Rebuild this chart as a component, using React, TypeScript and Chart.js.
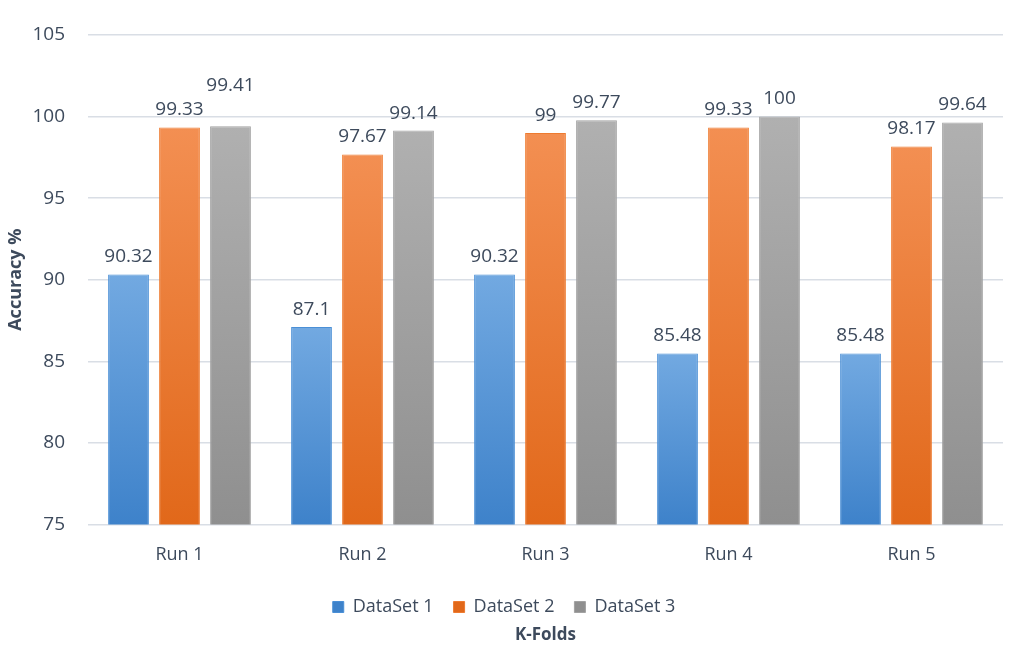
import { useEffect, useRef } from "react";
import Chart from "chart.js/auto";

const runs = ["Run 1", "Run 2", "Run 3", "Run 4", "Run 5"];
const dataSet1 = [90.32, 87.1, 90.32, 85.48, 85.48];
const dataSet2 = [99.33, 97.67, 99, 99.33, 98.17];
const dataSet3 = [99.41, 99.14, 99.77, 100, 99.64];
const seriesNames = ["DataSet 1", "DataSet 2", "DataSet 3"];
const xTitle = "K-Folds";
const yTitle = "Accuracy %";

const FONT = "'Open Sans', 'Noto Sans', sans-serif";
const TEXT = "#3d4a5c";

// top / bottom / border colour of each bar
const shades = [
  ["#72a9e1", "#3e82ca", "#4a8fd6"],
  ["#f38f52", "#e1681a", "#ee7b30"],
  ["#b0b0b0", "#8f8f8f", "#a2a2a2"],
];

function barGradient(idx: number) {
  return (c: any) => {
    const chart = c.chart;
    const y = chart.scales?.y;
    if (!chart.chartArea || !y || c.raw == null) return shades[idx][2];
    const top = y.getPixelForValue(c.raw);
    const bottom = y.getPixelForValue(y.min);
    const g = chart.ctx.createLinearGradient(0, top, 0, bottom);
    g.addColorStop(0, shades[idx][0]);
    g.addColorStop(1, shades[idx][1]);
    return g;
  };
}

// value above each bar; a label that would run into its neighbour is lifted above it
const valueLabels = {
  id: "valueLabels",
  afterDatasetsDraw(chart: any) {
    const ctx = chart.ctx;
    ctx.save();
    ctx.font = `19px ${FONT}`;
    ctx.fillStyle = TEXT;
    ctx.textAlign = "center";
    ctx.textBaseline = "bottom";
    const h = 22;
    const n = chart.data.labels.length;
    for (let j = 0; j < n; j++) {
      const placed: { l: number; r: number; b: number }[] = [];
      chart.data.datasets.forEach((ds: any, i: number) => {
        const bar = chart.getDatasetMeta(i).data[j];
        const text = String(ds.data[j]);
        const w = ctx.measureText(text).width;
        const l = bar.x - w / 2 - 3;
        const r = bar.x + w / 2 + 3;
        let b = bar.y - 8;
        placed.forEach((p) => {
          if (l < p.r && r > p.l && b > p.b - h && b - h < p.b) b = p.b - h - 2;
        });
        placed.push({ l, r, b });
        ctx.fillText(text, bar.x, b);
      });
    }
    ctx.restore();
  },
};

// x-axis title sits under the legend, centred on the plot area
const bottomTitle = {
  id: "bottomTitle",
  afterDraw(chart: any) {
    const { ctx, chartArea } = chart;
    ctx.save();
    ctx.font = `bold 17px ${FONT}`;
    ctx.fillStyle = TEXT;
    ctx.textAlign = "center";
    ctx.textBaseline = "middle";
    ctx.fillText(xTitle, (chartArea.left + chartArea.right) / 2, chart.height - 26);
    ctx.restore();
  },
};

export default function App() {
  const canvasRef = useRef<HTMLCanvasElement>(null);
  const chartRef = useRef<Chart | null>(null);

  useEffect(() => {
    document.body.style.margin = "0";
    if (!canvasRef.current) return;
    const ctx = canvasRef.current.getContext("2d");
    if (!ctx) return;
    if (chartRef.current) chartRef.current.destroy();

    const values = [dataSet1, dataSet2, dataSet3];

    chartRef.current = new Chart(ctx, {
      type: "bar",
      data: {
        labels: runs,
        datasets: values.map((v, i) => ({
          label: seriesNames[i],
          data: v,
          backgroundColor: barGradient(i),
          borderColor: shades[i][2],
          borderWidth: 1,
          barPercentage: 0.8,
          categoryPercentage: 0.836,
        })),
      },
      options: {
        responsive: true,
        maintainAspectRatio: false,
        animation: false,
        layout: { padding: { left: 5, right: 10, top: 35, bottom: 35 } },
        plugins: {
          legend: {
            position: "bottom",
            labels: {
              boxWidth: 11,
              boxHeight: 11,
              padding: 20,
              color: TEXT,
              font: { family: FONT, size: 18 },
            },
          },
          tooltip: { enabled: false },
        },
        scales: {
          x: {
            grid: { display: false },
            border: { display: false },
            ticks: {
              color: TEXT,
              padding: 12,
              font: { family: FONT, size: 18 },
            },
          },
          y: {
            min: 75,
            max: 105,
            afterFit: (scale: any) => {
              scale.width = 83;
            },
            ticks: {
              stepSize: 5,
              color: TEXT,
              padding: 23,
              font: { family: FONT, size: 19 },
            },
            grid: { color: "#d9dee5", lineWidth: 1.5, drawTicks: false },
            border: { display: false },
            title: {
              display: true,
              text: yTitle,
              color: TEXT,
              font: { family: FONT, size: 18, weight: "bold" },
              padding: { top: 0, bottom: 0 },
            },
          },
        },
      },
      plugins: [valueLabels, bottomTitle],
    });

    return () => {
      if (chartRef.current) {
        chartRef.current.destroy();
        chartRef.current = null;
      }
    };
  }, []);

  return (
    <div style={{ position: "relative", width: 1013, height: 661, background: "#fff" }}>
      <canvas ref={canvasRef}></canvas>
    </div>
  );
}
